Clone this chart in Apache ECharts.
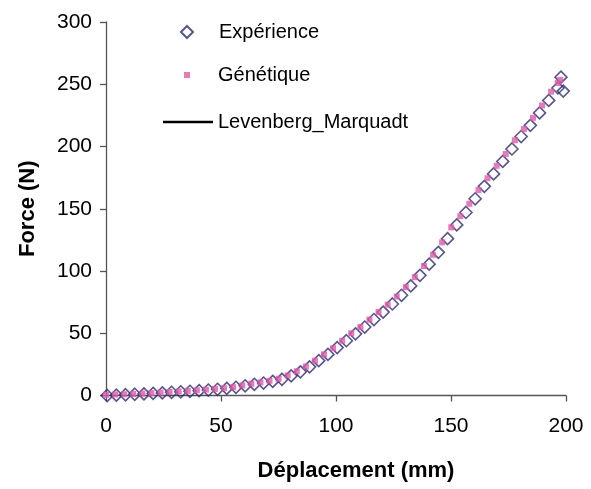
<!DOCTYPE html>
<html>
<head>
<meta charset="utf-8">
<script src="https://cdn.jsdelivr.net/npm/echarts@6/dist/echarts.min.js"></script>
<style>
  html, body { margin: 0; padding: 0; background: #fff; }
  #main { width: 591px; height: 489px; }
</style>
</head>
<body>
<div id="main"></div>
<script>
// Génétique (modèle) : déplacement (mm) / force (N)
var genX = [0, 3.95, 7.9, 11.85, 15.8, 19.75, 23.7, 27.65, 31.6, 35.55,
    39.5, 43.45, 47.4, 51.35, 55.3, 59.25, 63.2, 67.15, 71.1, 75.05,
    79.0, 82.95, 86.9, 90.85, 94.8, 98.75, 102.7, 106.65, 110.6, 114.55,
    118.5, 122.45, 126.4, 130.35, 134.3, 138.25, 142.2, 146.15, 150.1, 154.05,
    158.0, 161.95, 165.9, 169.85, 173.8, 177.75, 181.7, 185.65, 189.6, 193.55,
    196.4, 197.5];
var genY = [0.5, 0.8, 1.0, 1.2, 1.6, 1.9, 2.3, 2.8, 3.3, 3.7,
    4.2, 4.7, 5.3, 5.9, 6.7, 8.1, 9.5, 10.5, 11.8, 13.4,
    16.1, 19.5, 23.3, 28, 33, 38, 44, 50, 55, 61,
    67, 73, 79.5, 87, 95, 104, 113, 123, 135, 144,
    154, 165, 174.5, 184.5, 194, 205, 214, 223, 233, 244,
    251, 253.5];

// Expérience
var expX = [0.5, 4.5, 8.5, 12.5, 16.5, 20.5, 24.5, 28.5, 32.5, 36.5,
    40.5, 44.5, 48.5, 52.5, 56.5, 60.5, 64.5, 68.5, 72.5, 76.5,
    80.5, 84.5, 88.5, 92.5, 96.5, 100.5, 104.5, 108.5, 112.5, 116.5,
    120.5, 124.5, 128.5, 132.5, 136.5, 140.5, 144.5, 148.5, 152.5, 156.5,
    160.5, 164.5, 168.5, 172.5, 176.5, 180.5, 184.5, 188.5, 192.5, 196.5,
    197.8, 198.8];
var expY = [0, 0.3, 0.6, 1, 1.3, 1.7, 2.1, 2.6, 3, 3.4,
    3.9, 4.4, 5, 5.7, 6.6, 7.8, 9, 10, 11.3, 13,
    15.8, 19, 23, 28, 33, 38.5, 44, 49.5, 55, 61,
    67, 73.5, 80.5, 88, 96.5, 105.5, 115, 126, 137, 147,
    158, 168, 178, 188, 198, 208, 217, 227, 237, 247,
    255.7, 244.5];

var xTicks = [0, 50, 100, 150, 200];
var yTicks = [0, 50, 100, 150, 200, 250, 300];

function pairs(xs, ys) {
    var res = [];
    for (var i = 0; i < xs.length; i++) {
        res.push([xs[i], ys[i]]);
    }
    return res;
}

var font = 'Liberation Sans, Arial, sans-serif';
var legendText = { fontFamily: font, fontSize: 20, color: '#000' };

var option = {
    backgroundColor: '#fff',
    animation: false,
    grid: { left: 106, right: 25, top: 22, bottom: 93.5 },
    legend: [
        {
            data: ['Expérience'], orient: 'vertical', left: 180, top: 22, padding: 0,
            itemWidth: 12, itemHeight: 12, itemGap: 0,
            textStyle: Object.assign({ padding: [0, 0, 0, 21] }, legendText)
        },
        {
            data: ['Génétique'], orient: 'vertical', left: 184, top: 65, padding: 0,
            itemWidth: 6, itemHeight: 6, itemGap: 0,
            textStyle: Object.assign({ padding: [0, 0, 0, 23] }, legendText)
        },
        {
            data: [{ name: 'Levenberg_Marquadt', icon: 'rect' }],
            orient: 'vertical', left: 163, top: 112, padding: 0,
            itemWidth: 50, itemHeight: 2.5, itemGap: 0,
            textStyle: legendText
        }
    ],
    xAxis: {
        type: 'value', min: 0, max: 200, interval: 50,
        name: 'Déplacement (mm)', nameLocation: 'middle', nameGap: 64,
        nameTextStyle: { fontFamily: font, fontSize: 22, fontWeight: 'bold', color: '#000', padding: [0, 0, 0, 40] },
        axisLine: { lineStyle: { color: '#555', width: 1.3 } },
        axisTick: { show: true, length: 6, lineStyle: { color: '#555', width: 1.3 } },
        axisLabel: {
            fontFamily: font, fontSize: 21, color: '#000', margin: 20,
            formatter: function (v) { return xTicks.indexOf(v) >= 0 ? String(v) : ''; }
        },
        splitLine: { show: false }
    },
    yAxis: {
        type: 'value', min: 0, max: 300, interval: 50,
        name: 'Force (N)', nameLocation: 'middle', nameGap: 67,
        nameTextStyle: { fontFamily: font, fontSize: 22, fontWeight: 'bold', color: '#000' },
        axisLine: { show: true, lineStyle: { color: '#555', width: 1.3 } },
        axisTick: { show: true, length: 6, lineStyle: { color: '#555', width: 1.3 } },
        axisLabel: {
            fontFamily: font, fontSize: 21, color: '#000', margin: 14,
            formatter: function (v) { return yTicks.indexOf(v) >= 0 ? String(v) : ''; }
        },
        splitLine: { show: false }
    },
    series: [
        {
            name: 'Expérience',
            type: 'scatter',
            symbol: 'diamond',
            symbolSize: 12,
            data: pairs(expX, expY),
            itemStyle: { color: 'rgba(255,255,255,0)', borderColor: '#2b2a7c', borderWidth: 1.6 },
            z: 2
        },
        {
            name: 'Génétique',
            type: 'scatter',
            symbol: 'rect',
            symbolSize: 6,
            data: pairs(genX, genY),
            itemStyle: { color: '#e05aa5' },
            z: 3
        },
        {
            name: 'Levenberg_Marquadt',
            type: 'line',
            symbol: 'none',
            symbolKeepAspect: false,
            data: [],
            lineStyle: { color: '#000', width: 2.5 },
            itemStyle: { color: '#000' }
        }
    ]
};

var chart = echarts.init(document.getElementById('main'));
chart.setOption(option);
</script>
</body>
</html>
